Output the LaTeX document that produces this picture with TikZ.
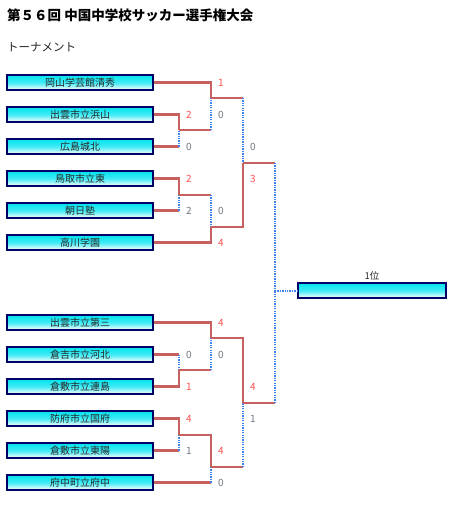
\documentclass[tikz,border=0pt]{standalone}
\usepackage{fontspec}
\setmainfont{Noto Sans CJK JP}
\newfontfamily\cjk{Noto Sans CJK JP}
\definecolor{linered}{RGB}{200,96,96}
\definecolor{lineblue}{RGB}{60,130,240}
\definecolor{boxedge}{RGB}{0,0,102}
\definecolor{boxtop}{RGB}{0,228,240}
\definecolor{scorered}{RGB}{255,80,80}
\definecolor{scoregrey}{RGB}{110,120,135}
\definecolor{txt}{RGB}{40,40,40}
\tikzset{
  x=1pt,y=-1pt,
  team/.style={draw=boxedge,line width=1.2pt,minimum width=146pt,minimum height=15pt,inner sep=0pt,
    top color=boxtop,bottom color=white,middle color={boxtop!75!white},
    font=\cjk\fontsize{10}{10}\selectfont,text=txt},
  win/.style={draw=linered,line width=2.3pt},
  lose/.style={draw=lineblue,line width=2pt,dash pattern=on 1.3pt off 1.1pt},
  sw/.style={font=\cjk\fontsize{10}{10}\selectfont,text=scorered,inner sep=0pt},
  sl/.style={font=\cjk\fontsize{10}{10}\selectfont,text=scoregrey,inner sep=0pt},
}
\begin{document}
\begin{tikzpicture}
\useasboundingbox[fill=white] (0,0) rectangle (467,516);
\node[anchor=west,inner sep=0pt,font=\cjk\bfseries\fontsize{13.5}{14}\selectfont] (title) at (7,15) {第５６回 中国中学校サッカー選手権大会};
\node[anchor=west,inner sep=0pt,font=\cjk\fontsize{11.5}{12}\selectfont,text=txt] (sub) at (7,47) {トーナメント};

\node[team] (t1) at (80,82.5) {岡山学芸館清秀};
\node[team] (t2) at (80,114.5) {出雲市立浜山};
\node[team] (t3) at (80,146.5) {広島城北};
\node[team] (t4) at (80,178.5) {鳥取市立東};
\node[team] (t5) at (80,210.5) {朝日塾};
\node[team] (t6) at (80,242.5) {高川学園};
\node[team] (t7) at (80,322.5) {出雲市立第三};
\node[team] (t8) at (80,354.5) {倉吉市立河北};
\node[team] (t9) at (80,386.5) {倉敷市立連島};
\node[team] (t10) at (80,418.5) {防府市立国府};
\node[team] (t11) at (80,450.5) {倉敷市立東陽};
\node[team] (t12) at (80,482.5) {府中町立府中};
\node[team,minimum width=148pt] (w) at (372,290.5) {};
\node[font=\cjk\fontsize{9.5}{10}\selectfont,text=txt,inner sep=0pt] (wl) at (372,276) {1位};

\coordinate (jA) at (179,130);
\coordinate (jB) at (211,98);
\coordinate (jC) at (179,195);
\coordinate (jD) at (211,227);
\coordinate (jE) at (243,163);
\coordinate (jF) at (275,290.5);
\coordinate (jG) at (211,338);
\coordinate (jH) at (179,370);
\coordinate (jI) at (179,435);
\coordinate (jJ) at (211,467);
\coordinate (jK) at (243,403);

% top half
\draw[win] (t2.east) -| (jA);
\draw[win] (t3.east) -- (t3.east -| jA);
\draw[lose] (t3.east -| jA) -- (jA);
\draw[win] (jA) -- (jA -| jB);
\draw[lose] (jA -| jB) -- (jB);
\draw[win] (t1.east) -| (jB);
\draw[win] (jB) -- (jB -| jE);
\draw[lose] (jB -| jE) -- (jE);

\draw[win] (t4.east) -| (jC);
\draw[win] (t5.east) -- (t5.east -| jC);
\draw[lose] (t5.east -| jC) -- (jC);
\draw[win] (jC) -- (jC -| jD);
\draw[lose] (jC -| jD) -- (jD);
\draw[win] (t6.east) -| (jD);
\draw[win] (jD) -- (jD -| jE) -- (jE);
\draw[win] (jE) -- (jE -| jF);
\draw[lose] (jE -| jF) -- (jF);
\draw[lose] (jF) -- (w.west);

% bottom half
\draw[win] (t7.east) -| (jG);
\draw[win] (t8.east) -- (t8.east -| jH);
\draw[lose] (t8.east -| jH) -- (jH);
\draw[win] (t9.east) -| (jH);
\draw[win] (jH) -- (jH -| jG);
\draw[lose] (jH -| jG) -- (jG);
\draw[win] (jG) -- (jG -| jK) -- (jK);

\draw[win] (t10.east) -| (jI);
\draw[win] (t11.east) -- (t11.east -| jI);
\draw[lose] (t11.east -| jI) -- (jI);
\draw[win] (jI) -- (jI -| jJ) -- (jJ);
\draw[win] (t12.east) -- (t12.east -| jJ);
\draw[lose] (t12.east -| jJ) -- (jJ);
\draw[win] (jJ) -- (jJ -| jK);
\draw[lose] (jJ -| jK) -- (jK);
\draw[win] (jK) -- (jK -| jF);
\draw[lose] (jK -| jF) -- (jF);

% scores
\node[sw] (s1) at (189,114.5) {2};
\node[sl] (s2) at (189,146.5) {0};
\node[sw] (s3) at (189,178.5) {2};
\node[sl] (s4) at (189,210.5) {2};
\node[sl] (s5) at (189,354.5) {0};
\node[sw] (s6) at (189,386.5) {1};
\node[sw] (s7) at (189,418.5) {4};
\node[sl] (s8) at (189,450.5) {1};
\node[sw] (s9) at (221,82.5) {1};
\node[sl] (s10) at (221,114.5) {0};
\node[sl] (s11) at (221,210.5) {0};
\node[sw] (s12) at (221,242.5) {4};
\node[sw] (s13) at (221,322.5) {4};
\node[sl] (s14) at (221,354.5) {0};
\node[sw] (s15) at (221,450.5) {4};
\node[sl] (s16) at (221,482.5) {0};
\node[sl] (s17) at (253,146.5) {0};
\node[sw] (s18) at (253,178.5) {3};
\node[sw] (s19) at (253,386.5) {4};
\node[sl] (s20) at (253,418.5) {1};
\end{tikzpicture}
\end{document}
